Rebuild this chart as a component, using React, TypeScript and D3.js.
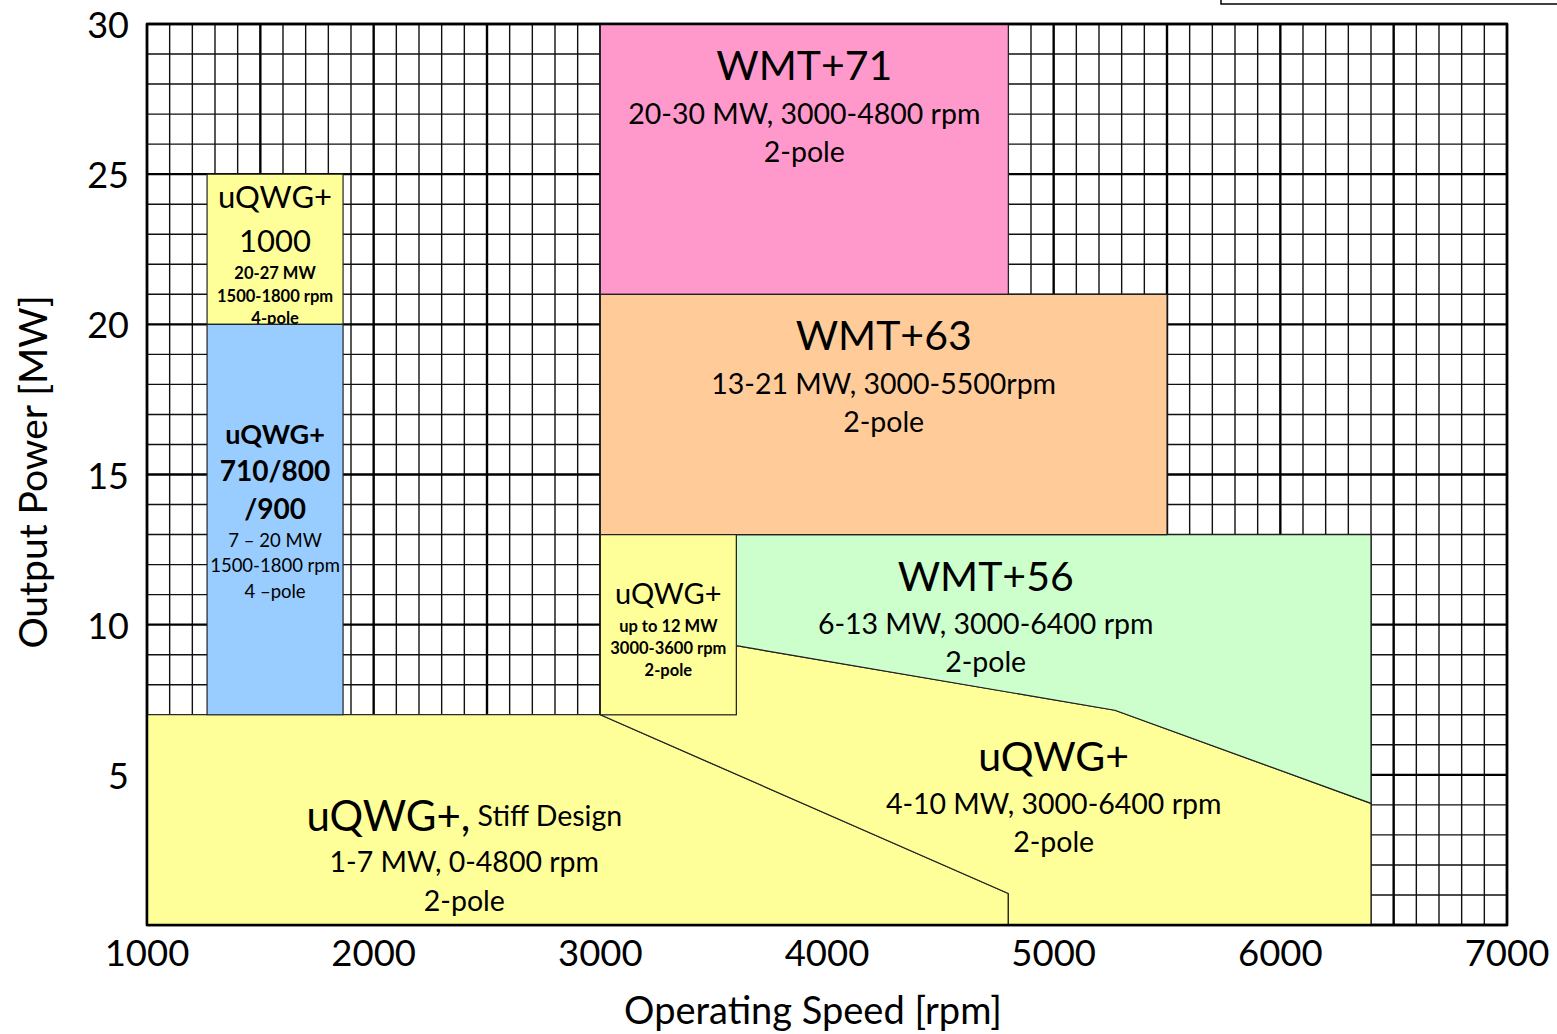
import React from 'react';
import * as d3 from 'd3';

const xTicks = [1000, 2000, 3000, 4000, 5000, 6000, 7000];
const yTicks = [5, 10, 15, 20, 25, 30];

// region outlines, [rpm, MW]
const stiffDesign = [[1000, 0], [1000, 7], [3000, 7], [4800, 1.05], [4800, 0]];
const uqwgMid = [[3000, 7], [3600, 7], [3600, 9.3], [5270, 7.15], [6400, 4.05], [6400, 0], [4800, 0], [4800, 1.05]];
const wmt56 = [[3600, 13], [6400, 13], [6400, 4.05], [5270, 7.15], [3600, 9.3]];
const wmt71 = [[3000, 21], [4800, 21], [4800, 30], [3000, 30]];
const wmt63 = [[3000, 13], [5500, 13], [5500, 21], [3000, 21]];
const uqwgSmall = [[3000, 7], [3600, 7], [3600, 13], [3000, 13]];
const uqwg1000 = [[1265, 20], [1865, 20], [1865, 25], [1265, 25]];
const uqwg710 = [[1265, 7], [1865, 7], [1865, 20], [1265, 20]];

const FONT = "Lato, 'Open Sans', sans-serif";

const W = 1557;
const H = 1034;

const x = d3.scaleLinear().domain([1000, 7000]).range([147, 1507]);
const y = d3.scaleLinear().domain([0, 30]).range([925, 24]);

const line = d3.line<number[]>().x(d => x(d[0])).y(d => y(d[1]));
const shape = (pts: number[][]) => line(pts) + 'Z';

type Ln = [string, number, number, number]; // text, size, weight, dy
const Label = ({ cx, cy, lines }: { cx: number; cy: number; lines: Ln[] }) => (
  <g>
    {lines.map(([t, s, w, dy], i) => (
      <text key={i} x={x(cx)} y={y(cy) + dy} fontSize={s} fontWeight={w}
        textAnchor="middle" dominantBaseline="central">{t}</text>
    ))}
  </g>
);

export default function App() {
  const minorX = d3.range(1000, 7001, 100);
  const minorY = d3.range(0, 31, 1);
  return (
    <svg width={W} height={H} style={{ position: 'absolute', left: 0, top: 0, background: '#fff' }}
      fontFamily={FONT}>
      {/* cut-off box top right */}
      <rect x={1221} y={-20} width={400} height={24} fill="#fff" stroke="#000" strokeWidth={1.5} />

      {/* grid */}
      <g>
        {minorX.map(v => (
          <line key={'vx' + v} x1={x(v)} x2={x(v)} y1={y(0)} y2={y(30)}
            stroke={v % 500 === 0 ? '#000' : '#111'} strokeWidth={v % 500 === 0 ? 2.4 : 1.4} />
        ))}
        {minorY.map(v => (
          <line key={'hy' + v} x1={x(1000)} x2={x(7000)} y1={y(v)} y2={y(v)}
            stroke={v % 5 === 0 ? '#000' : '#111'} strokeWidth={v % 5 === 0 ? 2.4 : 1.4} />
        ))}
      </g>

      {/* regions */}
      <g stroke="#222" strokeWidth={1.2} strokeLinejoin="round">
        <path d={shape(stiffDesign)} fill="#FFFF99" />
        <path d={shape(uqwgMid)} fill="#FFFF99" />
        <path d={shape(wmt56)} fill="#CCFFCC" />
        <path d={shape(wmt71)} fill="#FF99CC" />
        <path d={shape(wmt63)} fill="#FFCC99" />
        <path d={shape(uqwgSmall)} fill="#FFFF99" />
        <path d={shape(uqwg1000)} fill="#FFFF99" />
      </g>

      <Label cx={1565} cy={24.28} lines={[
        ['uQWG+', 31, 400, 0], ['1000', 31, 400, 44],
        ['20-27 MW', 16.5, 700, 77], ['1500-1800 rpm', 16.5, 700, 100], ['4-pole', 16.5, 700, 122]]} />

      <path d={shape(uqwg710)} fill="#99CCFF" stroke="#222" strokeWidth={1.2} />

      {/* frame */}
      <rect x={x(1000)} y={y(30)} width={x(7000) - x(1000)} height={y(0) - y(30)}
        fill="none" stroke="#000" strokeWidth={2.5} />

      <Label cx={3900} cy={28.64} lines={[
        ['WMT+71', 41, 400, 0], ['20-30 MW, 3000-4800 rpm', 28.5, 400, 48], ['2-pole', 28.5, 400, 86]]} />
      <Label cx={4250} cy={19.65} lines={[
        ['WMT+63', 41, 400, 0], ['13-21 MW, 3000-5500rpm', 28.5, 400, 48], ['2-pole', 28.5, 400, 86]]} />
      <Label cx={4700} cy={11.65} lines={[
        ['WMT+56', 41, 400, 0], ['6-13 MW, 3000-6400 rpm', 28.5, 400, 48], ['2-pole', 28.5, 400, 86]]} />
      <Label cx={5000} cy={5.66} lines={[
        ['uQWG+', 41, 400, 0], ['4-10 MW, 3000-6400 rpm', 28.5, 400, 48], ['2-pole', 28.5, 400, 86]]} />
      <text x={x(2400)} y={y(3.66)} textAnchor="middle" dominantBaseline="central">
        <tspan fontSize={42}>uQWG+,</tspan>
        <tspan fontSize={28.5}> Stiff Design</tspan>
      </text>
      <Label cx={2400} cy={3.66} lines={[
        ['1-7 MW, 0-4800 rpm', 28.5, 400, 46], ['2-pole', 28.5, 400, 85]]} />
      <Label cx={3300} cy={11.06} lines={[
        ['uQWG+', 29, 400, 0], ['up to 12 MW', 16.5, 700, 33], ['3000-3600 rpm', 16.5, 700, 55], ['2-pole', 16.5, 700, 77]]} />
      <Label cx={1565} cy={16.38} lines={[
        ['uQWG+', 27, 700, 0], ['710/800', 28, 700, 37], ['/900', 28, 700, 75],
        ['7 – 20 MW', 18.5, 400, 107], ['1500-1800 rpm', 18.5, 400, 132], ['4 –pole', 18.5, 400, 158]]} />

      {/* axes */}
      {xTicks.map(v => (
        <text key={'xt' + v} x={x(v)} y={952} fontSize={36.5} textAnchor="middle" dominantBaseline="central">{v}</text>
      ))}
      {yTicks.map(v => (
        <text key={'yt' + v} x={129} y={y(v)} fontSize={36} textAnchor="end" dominantBaseline="central">{v}</text>
      ))}
      <text x={813} y={1009} fontSize={38} textAnchor="middle" dominantBaseline="central">Operating Speed [rpm]</text>
      <text transform="translate(32,472) rotate(-90)" fontSize={39} textAnchor="middle" dominantBaseline="central">Output Power [MW]</text>
    </svg>
  );
}
